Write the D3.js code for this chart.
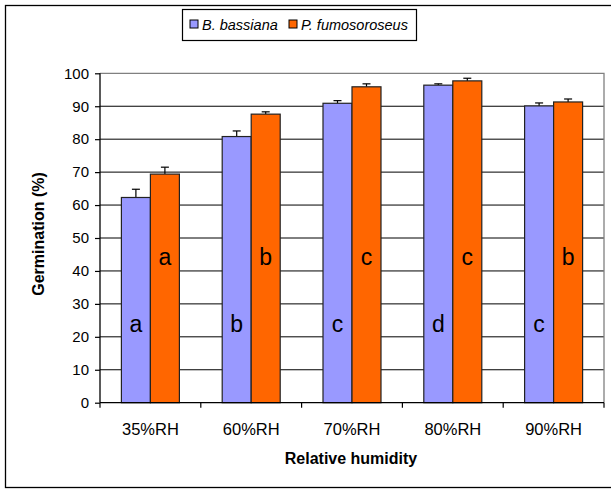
<!DOCTYPE html>
<html><head><meta charset="utf-8">
<script src="https://cdn.jsdelivr.net/npm/d3@7"></script>
<style>body{margin:0;background:#fff;} text{font-family:Arial,"Liberation Sans",sans-serif;}</style>
</head><body><svg id="c" width="611" height="489"></svg>
<script>
const categories = ["35%RH","60%RH","70%RH","80%RH","90%RH"];
const seriesNames = ["B. bassiana","P. fumosoroseus"];
const bassiana = [62.3, 80.8, 90.9, 96.4, 90.1];
const bassianaErr = [2.5, 1.7, 0.8, 0.4, 0.9];
const fumoso = [69.4, 87.6, 95.9, 97.7, 91.3];
const fumosoErr = [2.1, 0.7, 0.9, 0.8, 0.9];
const bassianaLetters = ["a","b","c","d","c"];
const fumosoLetters = ["a","b","c","c","b"];
const yTicks = [0,10,20,30,40,50,60,70,80,90,100];
const colors = ["#9999FF","#FF6600"];

const svg = d3.select("#c");
const L=100, R=604, T=73.3, B=402.7;
svg.append("rect").attr("x",5.5).attr("y",5.5).attr("width",620).attr("height",482).attr("fill","none").attr("stroke","#000").attr("stroke-width",1.3);

const x = d3.scaleBand().domain(categories).range([L,R]).paddingInner(0).paddingOuter(0);
const y = d3.scaleLinear().domain([0,100]).range([B,T]);
const bw = 29;

// gridlines
svg.append("g").selectAll("line").data(yTicks.filter(d=>d>0&&d<100)).join("line")
 .attr("x1",L).attr("x2",R).attr("y1",d=>y(d)).attr("y2",d=>y(d)).attr("stroke","#000").attr("stroke-width",1);
// plot border top/right gray
svg.append("path").attr("d",`M${L},${y(100)}H${R}V${B}`).attr("fill","none").attr("stroke","#808080").attr("stroke-width",1.3);

const series = [
 {vals:bassiana, err:bassianaErr, letters:bassianaLetters, off:-bw, color:colors[0], ly:24},
 {vals:fumoso, err:fumosoErr, letters:fumosoLetters, off:0, color:colors[1], ly:44.3}
];
series.forEach(s=>{
  const g = svg.append("g");
  const cx = c=> x(c)+x.bandwidth()/2 + s.off;
  g.selectAll("line.e").data(categories).join("line")
   .attr("x1",(c)=>cx(c)+bw/2).attr("x2",(c)=>cx(c)+bw/2)
   .attr("y1",(c,i)=>y(s.vals[i])).attr("y2",(c,i)=>y(s.vals[i]+s.err[i])).attr("stroke","#000").attr("stroke-width",1.2);
  g.selectAll("line.c").data(categories).join("line")
   .attr("x1",(c)=>cx(c)+bw/2-4).attr("x2",(c)=>cx(c)+bw/2+4)
   .attr("y1",(c,i)=>y(s.vals[i]+s.err[i])).attr("y2",(c,i)=>y(s.vals[i]+s.err[i])).attr("stroke","#000").attr("stroke-width",1.2);
  g.selectAll("rect").data(categories).join("rect")
   .attr("x",c=>cx(c)).attr("width",bw)
   .attr("y",(c,i)=>y(s.vals[i])).attr("height",(c,i)=>B-y(s.vals[i]))
   .attr("fill",s.color).attr("stroke","#222").attr("stroke-width",1.2);
  g.selectAll("text").data(categories).join("text")
   .attr("x",c=>cx(c)+bw/2).attr("y",y(s.ly)).attr("text-anchor","middle").attr("dominant-baseline","central")
   .attr("font-size",23).attr("fill","#000").text((c,i)=>s.letters[i]);
});

// y axis
const ya = svg.append("g").attr("transform",`translate(${L},0)`).call(d3.axisLeft(y).tickValues(yTicks).tickSize(5).tickPadding(6));
ya.select(".domain").attr("stroke","#000").attr("stroke-width",1.3).attr("d",`M0,${T}V${B}`);
ya.selectAll(".tick line").attr("stroke","#000").attr("stroke-width",1.2);
ya.selectAll(".tick text").attr("font-size",15).attr("fill","#000").attr("font-family","Arial,'Liberation Sans',sans-serif");

// x axis
const xa = svg.append("g").attr("transform",`translate(0,${B})`).call(d3.axisBottom(x).tickSize(0).tickPadding(20.5));
xa.select(".domain").remove();
xa.selectAll(".tick text").attr("font-size",16.5).attr("fill","#000").attr("font-family","Arial,'Liberation Sans',sans-serif");
svg.append("path").attr("d",`M${L},${B}H${R}`).attr("stroke","#000").attr("stroke-width",1.3);
svg.append("g").selectAll("line").data(d3.range(categories.length+1)).join("line")
 .attr("x1",i=>L+i*x.bandwidth()).attr("x2",i=>L+i*x.bandwidth()).attr("y1",B).attr("y2",B+5).attr("stroke","#000").attr("stroke-width",1.2);

// titles
svg.append("text").attr("x",351).attr("y",464).attr("text-anchor","middle").attr("font-size",16).attr("font-weight","bold").text("Relative humidity");
svg.append("text").attr("transform","translate(43.5,234) rotate(-90)").attr("text-anchor","middle").attr("font-size",16).attr("font-weight","bold").text("Germination (%)");

// legend
const lg = svg.append("g");
lg.append("rect").attr("x",182.5).attr("y",9.5).attr("width",234).attr("height",31).attr("fill","#fff").attr("stroke","#000").attr("stroke-width",1.2);
const lx = [190, 289];
seriesNames.forEach((n,i)=>{
  lg.append("rect").attr("x",lx[i]).attr("y",20).attr("width",8).attr("height",8).attr("fill",colors[i]).attr("stroke","#000").attr("stroke-width",1);
  lg.append("text").attr("x",lx[i]+12).attr("y",29.5).attr("font-size",14.5).attr("font-style","italic").text(n);
});
</script></body></html>
